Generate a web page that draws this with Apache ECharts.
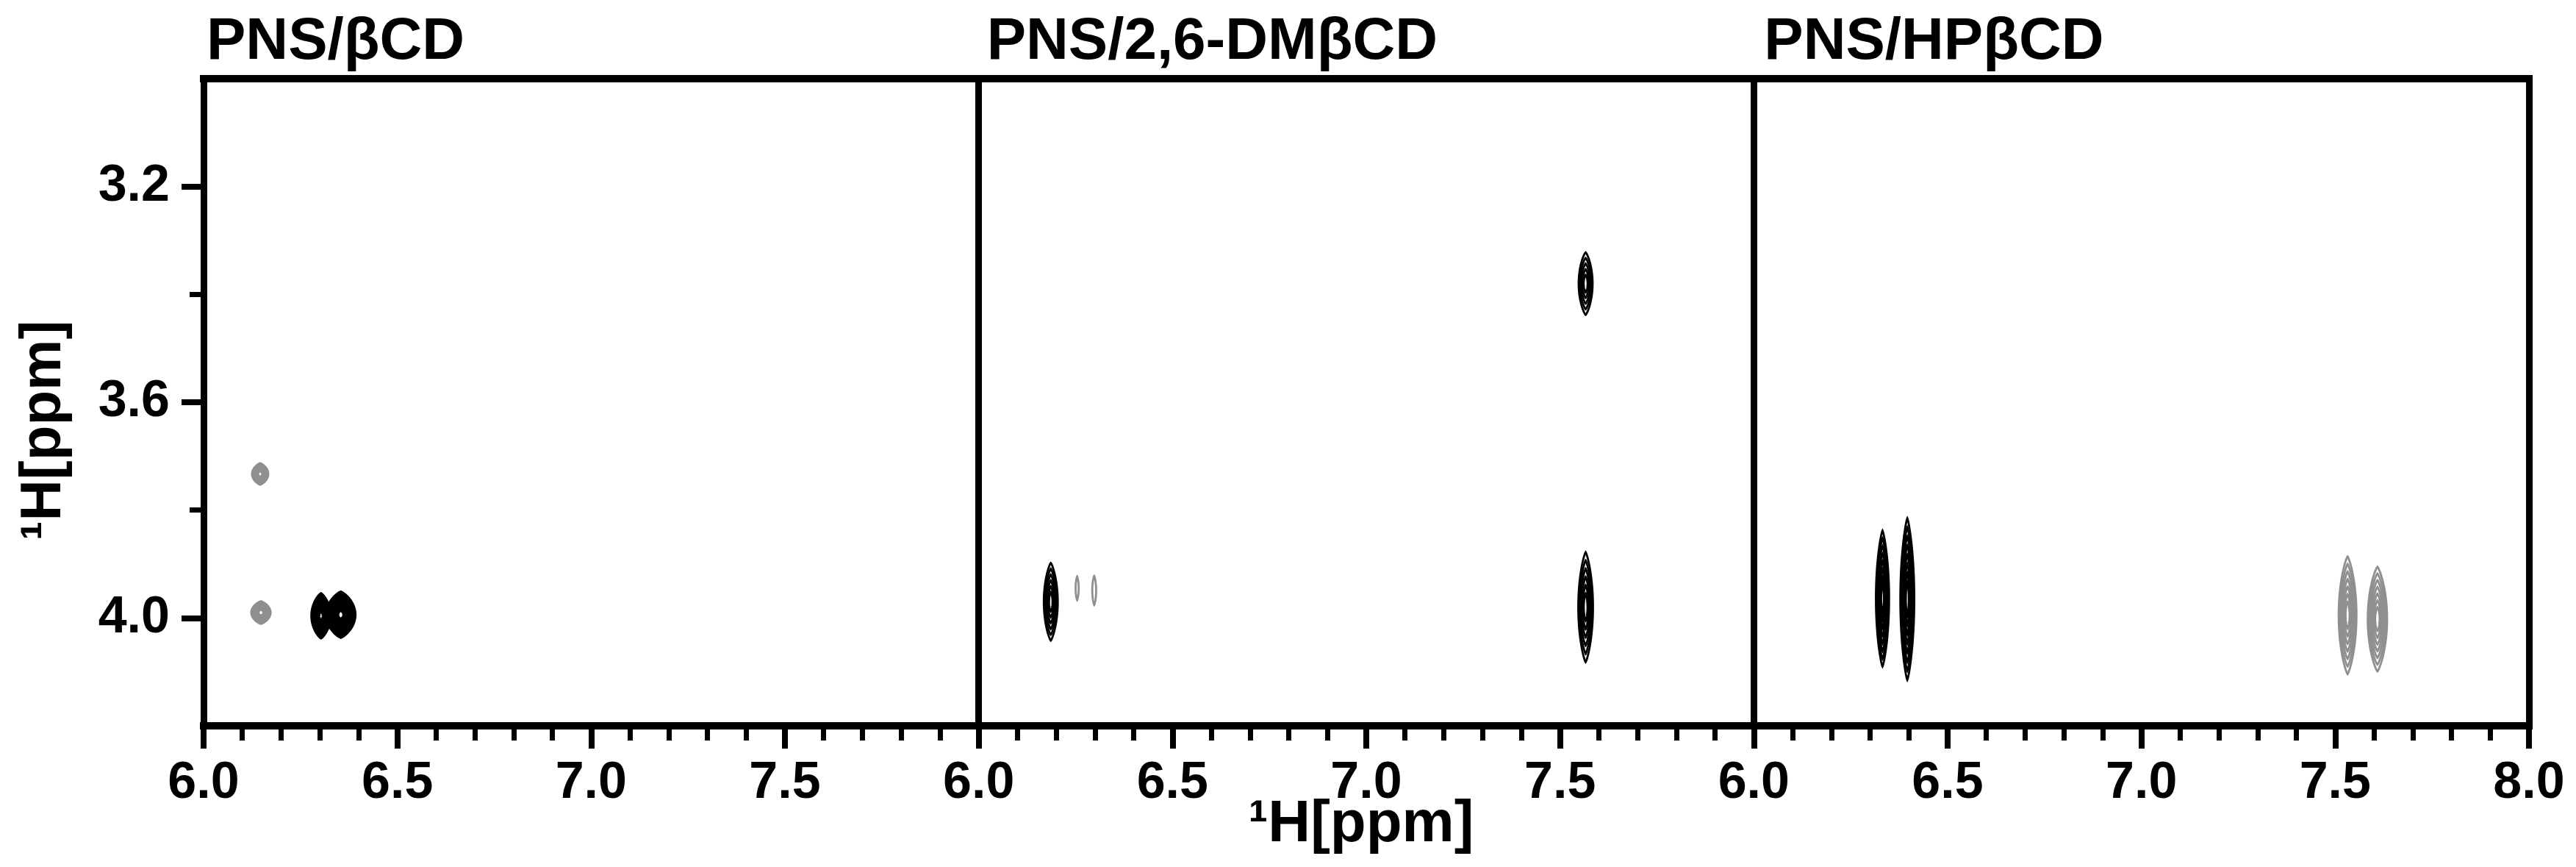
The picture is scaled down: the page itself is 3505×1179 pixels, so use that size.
<!DOCTYPE html>
<html>
<head>
<meta charset="utf-8">
<script src="https://cdn.jsdelivr.net/npm/echarts@6/dist/echarts.min.js"></script>
<style>
  html, body { margin: 0; padding: 0; background: #fff; }
  #chart { width: 3505px; height: 1179px; }
</style>
</head>
<body>
<div id="chart"></div>
<script>
// ---- data ----
var panelTitles = ['PNS/βCD', 'PNS/2,6-DMβCD', 'PNS/HPβCD'];
var xMin = 6.0, xMax = 8.0, xStep = 0.5;
var yMin = 3.0, yMax = 4.2;
var yLabelTicks = [3.2, 3.6, 4.0];
var yMinorTicks = [3.4, 3.8];
var axisTitle = '¹H[ppm]';

// cross peaks: [x ppm, y ppm, half width x (ppm), half width y (ppm), contour levels, sign]
var peaksBCD = [
  [6.146, 3.733, 0.021, 0.020, 6, -1],
  [6.148, 3.990, 0.025, 0.021, 6, -1],
  [6.303, 3.996, 0.025, 0.042, 12, 1],
  [6.354, 3.994, 0.038, 0.043, 13, 1]
];
var peaksDMBCD = [
  [6.186, 3.970, 0.018, 0.072, 6, 1],
  [6.254, 3.945, 0.004, 0.022, 1, -1],
  [6.298, 3.949, 0.005, 0.027, 1, -1],
  [7.566, 3.380, 0.018, 0.058, 5, 1],
  [7.566, 3.980, 0.019, 0.102, 6, 1]
];
var peaksHPBCD = [
  [6.332, 3.964, 0.017, 0.126, 8, 1],
  [6.396, 3.965, 0.018, 0.150, 8, 1],
  [7.532, 3.995, 0.023, 0.109, 7, -1],
  [7.609, 4.002, 0.025, 0.097, 7, -1]
];
var panelPeaks = [peaksBCD, peaksDMBCD, peaksHPBCD];

// ---- layout ----
var plotLeft = 277, plotRight = 3441, plotTop = 107, plotBottom = 987;
var panelW = (plotRight - plotLeft) / 3;
var titleInset = [4, 11, 14];
var FONT = '"Liberation Sans", Arial, sans-serif';

// nested contour lines of one cross peak, sized through the axes
function renderPeak(params, api) {
  var c = api.coord([api.value(0), api.value(1)]);
  var s = api.size([api.value(2), api.value(3)], [api.value(0), api.value(1)]);
  var levels = api.value(4);
  var color = api.value(5) > 0 ? '#000' : '#8f8f8f';
  var children = [];
  for (var k = 0; k < levels; k++) {
    var f = 1 - k * 0.9 / levels;
    var pts = [];
    for (var j = 0; j < 64; j++) {
      var t = j / 64 * Math.PI * 2;
      var ct = Math.cos(t);
      pts.push([
        c[0] + s[0] * f * (ct < 0 ? -1 : 1) * Math.pow(Math.abs(ct), 1.6),
        c[1] + s[1] * f * Math.sin(t)
      ]);
    }
    children.push({
      type: 'polygon',
      shape: { points: pts },
      style: { fill: 'none', stroke: color, lineWidth: 2.8 }
    });
  }
  return { type: 'group', children: children };
}

var grids = [], xAxes = [], yAxes = [], series = [], titles = [];
for (var i = 0; i < 3; i++) {
  grids.push({ left: plotLeft + i * panelW, width: panelW, top: plotTop, height: plotBottom - plotTop });

  // bottom axis
  xAxes.push({
    type: 'value', gridIndex: i, position: 'bottom',
    min: xMin, max: xMax, interval: xStep,
    axisLine: { lineStyle: { color: '#000', width: 10, cap: 'square' } },
    axisTick: { length: 31, lineStyle: { color: '#000', width: 8 } },
    minorTick: { show: true, splitNumber: 5, length: 20, lineStyle: { color: '#000', width: 7 } },
    splitLine: { show: false }, minorSplitLine: { show: false },
    axisLabel: {
      margin: 44, color: '#000', fontSize: 70, fontWeight: 'bold', fontFamily: FONT,
      showMinLabel: true, showMaxLabel: i === 2,
      formatter: function (v) { return v.toFixed(1); }
    }
  });
  // top frame
  xAxes.push({
    type: 'value', gridIndex: i, position: 'top',
    min: xMin, max: xMax,
    axisLine: { lineStyle: { color: '#000', width: 10, cap: 'square' } },
    axisTick: { show: false }, axisLabel: { show: false }, splitLine: { show: false }
  });

  var mainY = yAxes.length;
  yAxes.push({
    type: 'value', gridIndex: i, position: 'left', inverse: true,
    min: yMin, max: yMax,
    axisLine: { lineStyle: { color: '#000', width: 9 } },
    axisTick: i === 0 ? { show: true, customValues: yLabelTicks, length: 30, lineStyle: { color: '#000', width: 8 } } : { show: false },
    axisLabel: i === 0 ? {
      show: true, customValues: yLabelTicks, margin: 46, color: '#000',
      fontSize: 70, fontWeight: 'bold', fontFamily: FONT,
      formatter: function (v) { return v.toFixed(1); }
    } : { show: false },
    splitLine: { show: false }
  });
  if (i === 0) {
    yAxes.push({
      type: 'value', gridIndex: i, position: 'left', inverse: true,
      min: yMin, max: yMax,
      axisLine: { show: false },
      axisTick: { show: true, customValues: yMinorTicks, length: 19, lineStyle: { color: '#000', width: 7 } },
      axisLabel: { show: false }, splitLine: { show: false }
    });
  }
  if (i === 2) {
    yAxes.push({
      type: 'value', gridIndex: i, position: 'right', inverse: true,
      min: yMin, max: yMax,
      axisLine: { lineStyle: { color: '#000', width: 9 } },
      axisTick: { show: false }, axisLabel: { show: false }, splitLine: { show: false }
    });
  }

  series.push({
    type: 'custom', name: panelTitles[i],
    coordinateSystem: 'cartesian2d', xAxisIndex: i * 2, yAxisIndex: mainY,
    data: panelPeaks[i], renderItem: renderPeak, silent: true, animation: false
  });

  titles.push({
    text: panelTitles[i], left: plotLeft + i * panelW + titleInset[i], top: 18, padding: 0,
    textStyle: { color: '#000', fontSize: 80, fontWeight: 'bold', fontFamily: FONT }
  });
}

var option = {
  backgroundColor: '#fff',
  animation: false,
  title: titles,
  grid: grids,
  xAxis: xAxes,
  yAxis: yAxes,
  series: series,
  graphic: [
    {
      type: 'text', x: 1852, y: 1122,
      style: { text: axisTitle, fill: '#000', font: 'bold 80px ' + FONT, align: 'center', verticalAlign: 'middle', textAlign: 'center', textVerticalAlign: 'middle' }
    },
    {
      type: 'text', x: 60, y: 585, rotation: Math.PI / 2,
      style: { text: axisTitle, fill: '#000', font: 'bold 78px ' + FONT, align: 'center', verticalAlign: 'middle', textAlign: 'center', textVerticalAlign: 'middle' }
    }
  ]
};

echarts.init(document.getElementById('chart')).setOption(option);
</script>
</body>
</html>
